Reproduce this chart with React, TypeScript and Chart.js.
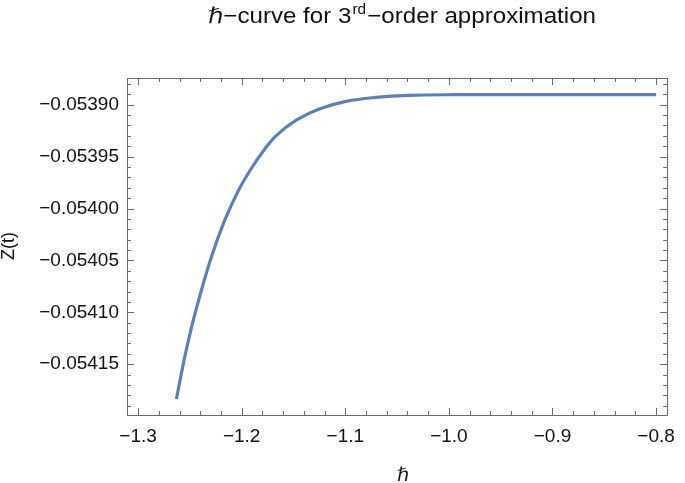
import React, { useEffect, useRef } from 'react';
import { Chart, registerables } from 'chart.js';
Chart.register(...registerables);

const hbarValues = [-1.2630, -1.2557, -1.2493, -1.2431, -1.2351, -1.2272, -1.2161, -1.2035, -1.1909, -1.1782, -1.1656, -1.1466, -1.1245, -1.0992, -1.0707, -1.0391, -0.9948, -0.9, -0.8];
const zValues = [-0.0541835, -0.0541466, -0.0541182, -0.0540941, -0.0540657, -0.0540407, -0.0540108, -0.0539833, -0.0539617, -0.0539434, -0.0539289, -0.0539145, -0.0539039, -0.0538968, -0.0538930, -0.0538910, -0.0538904, -0.0538904, -0.0538904];

const xTicks = [-1.3, -1.2, -1.1, -1.0, -0.9, -0.8];
const xTickLabels = ['\u22121.3', '\u22121.2', '\u22121.1', '\u22121.0', '\u22120.9', '\u22120.8'];
const yTicks = [-0.05415, -0.0541, -0.05405, -0.054, -0.05395, -0.0539];
const yTickLabels = ['\u22120.05415', '\u22120.05410', '\u22120.05405', '\u22120.05400', '\u22120.05395', '\u22120.05390'];

const X_MIN = -1.3107;
const X_MAX = -0.7893;
const Y_MIN = -0.0541989;
const Y_MAX = -0.0538743;

const FONT = "'Liberation Sans', Arial, sans-serif";
const FRAME = '#6b6b6b';
const TEXT = '#111';

const lookup = (arr: number[], labels: string[], v: number) => {
  for (let i = 0; i < arr.length; i++) if (Math.abs(arr[i] - v) < 1e-9) return labels[i];
  return '';
};

const framePlugin = {
  id: 'framePlugin',
  afterDraw(chart: any) {
    const { ctx, chartArea: a, scales } = chart;
    const xs = scales.x;
    const ys = scales.y;
    ctx.save();
    ctx.strokeStyle = FRAME;
    ctx.lineWidth = 1;
    ctx.strokeRect(Math.round(a.left) + 0.5, Math.round(a.top) + 0.5, Math.round(a.right - a.left), Math.round(a.bottom - a.top));
    for (let i = -70; i <= -35; i++) {
      const v = i * 0.02;
      if (v < X_MIN || v > X_MAX) continue;
      const len = i % 5 === 0 ? 7 : 4;
      const px = Math.round(xs.getPixelForValue(v)) + 0.5;
      ctx.beginPath();
      ctx.moveTo(px, a.bottom);
      ctx.lineTo(px, a.bottom - len);
      ctx.moveTo(px, a.top);
      ctx.lineTo(px, a.top + len);
      ctx.stroke();
    }
    for (let i = -5425; i <= -5380; i++) {
      const v = i * 1e-5;
      if (v < Y_MIN || v > Y_MAX) continue;
      const len = i % 5 === 0 ? 7 : 4;
      const py = Math.round(ys.getPixelForValue(v)) + 0.5;
      ctx.beginPath();
      ctx.moveTo(a.left, py);
      ctx.lineTo(a.left + len, py);
      ctx.moveTo(a.right, py);
      ctx.lineTo(a.right - len, py);
      ctx.stroke();
    }
    // title
    ctx.fillStyle = TEXT;
    ctx.textBaseline = 'alphabetic';
    ctx.textAlign = 'left';
    const big = `22px ${FONT}`;
    const ital = `italic 22px ${FONT}, 'DejaVu Sans'`;
    const small = `14px ${FONT}`;
    const parts: [string, string, number][] = [
      ['\u210F', ital, 0],
      ['\u2212curve for 3', big, 0],
      ['rd', small, -9],
      ['\u2212order approximation', big, 0],
    ];
    let total = 0;
    const widths = parts.map(([t, f]) => { ctx.font = f; const w = ctx.measureText(t).width; total += w; return w; });
    total += 2;
    const sx = 388 / total;
    ctx.save();
    ctx.translate(208, 23);
    ctx.scale(sx, 1);
    let x = 0;
    parts.forEach(([t, f, dy], i) => {
      ctx.font = f;
      if (i === 2) x += 1;
      ctx.fillText(t, x, dy);
      x += widths[i];
      if (i === 2) x += 1;
    });
    ctx.restore();
    // y label
    ctx.save();
    ctx.translate(9, 246);
    ctx.rotate(-Math.PI / 2);
    ctx.textAlign = 'center';
    ctx.textBaseline = 'middle';
    ctx.font = `18px ${FONT}`;
    ctx.fillText('Z(t)', 0, 0);
    ctx.restore();
    // x label
    ctx.textAlign = 'center';
    ctx.textBaseline = 'middle';
    ctx.font = `italic 19px ${FONT}, 'DejaVu Sans'`;
    ctx.fillText('\u210F', 403, 476);
    ctx.restore();
  },
};

export default function App() {
  const ref = useRef<HTMLCanvasElement | null>(null);
  useEffect(() => {
    document.body.style.margin = '0';
    if (!ref.current) return;
    const chart = new Chart(ref.current, {
      type: 'line',
      data: {
        datasets: [
          {
            data: hbarValues.map((h, i) => ({ x: h, y: zValues[i] })),
            borderColor: '#5E81B5',
            borderWidth: 3.2,
            pointRadius: 0,
            fill: false,
            tension: 0.4,
            capBezierPoints: true,
          },
        ],
      },
      options: {
        responsive: false,
        animation: false,
        layout: { padding: { top: 78, right: 8, left: 0, bottom: 0 } },
        plugins: { legend: { display: false }, title: { display: false }, tooltip: { enabled: false } },
        scales: {
          x: {
            type: 'linear',
            min: X_MIN,
            max: X_MAX,
            grid: { display: false, drawTicks: false },
            border: { display: false },
            afterBuildTicks: (s: any) => { s.ticks = xTicks.map((v) => ({ value: v })); },
            afterFit: (s: any) => { s.height = 68; },
            ticks: {
              autoSkip: false,
              maxRotation: 0,
              padding: 10,
              color: TEXT,
              font: { family: FONT, size: 19 },
              callback: (v: any) => lookup(xTicks, xTickLabels, Number(v)),
            },
          },
          y: {
            type: 'linear',
            min: Y_MIN,
            max: Y_MAX,
            grid: { display: false, drawTicks: false },
            border: { display: false },
            afterBuildTicks: (s: any) => { s.ticks = yTicks.map((v) => ({ value: v })); },
            afterFit: (s: any) => { s.width = 127; },
            ticks: {
              autoSkip: false,
              padding: 8,
              color: TEXT,
              font: { family: FONT, size: 19 },
              callback: (v: any) => lookup(yTicks, yTickLabels, Number(v)),
            },
          },
        },
      },
      plugins: [framePlugin],
    } as any);
    return () => chart.destroy();
  }, []);
  return (
    <div style={{ width: 685, height: 483 }}>
      <canvas ref={ref} width={685} height={483} />
    </div>
  );
}
